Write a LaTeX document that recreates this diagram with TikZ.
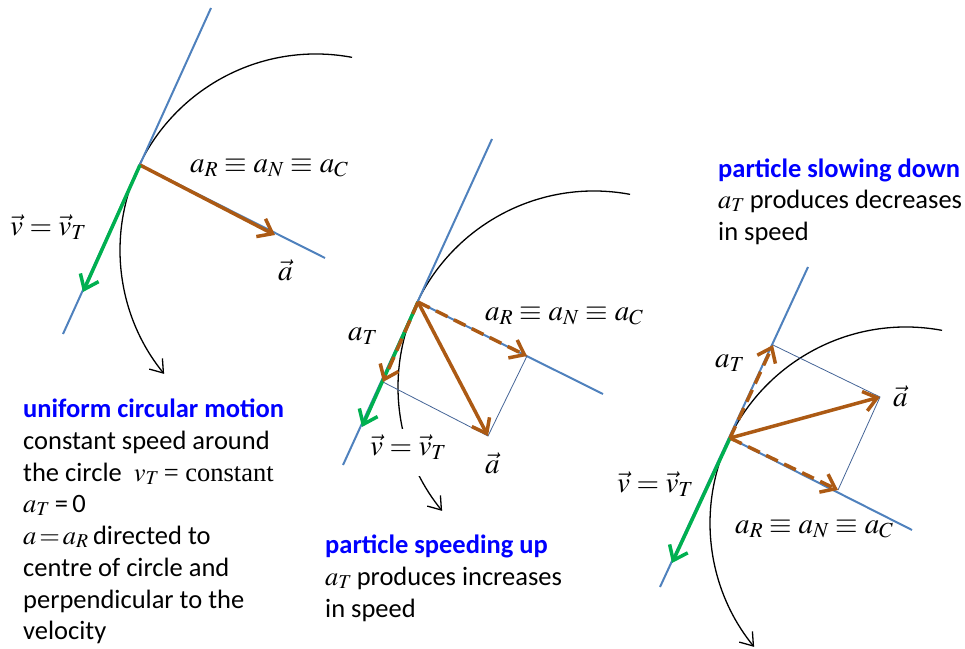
\documentclass[tikz,border=0pt]{standalone}
\usepackage{mathptmx}
\usepackage[no-math]{fontspec}
\setmainfont{Carlito}
\newfontfamily\serif{Liberation Serif}
\usetikzlibrary{arrows.meta}
\definecolor{tanblue}{RGB}{79,129,189}
\definecolor{brn}{RGB}{172,90,20}
\definecolor{grn}{RGB}{0,176,80}
\definecolor{thinb}{RGB}{68,100,150}
\definecolor{hblue}{RGB}{0,0,255}
\begin{document}
\begin{tikzpicture}[x=1pt,y=-1pt,
  tline/.style={draw=tanblue,line width=2pt},
  vecbrn/.style={draw=brn,line width=3.5pt,-{Straight Barb[length=13pt,width=20pt]}},
  dashbrn/.style={vecbrn,dash pattern=on 13pt off 7pt},
  vecgrn/.style={draw=grn,line width=3.5pt,-{Straight Barb[length=13pt,width=20pt]}},
  parl/.style={draw=thinb,line width=0.8pt},
  motion/.style={draw=black,line width=1.3pt,-{Straight Barb[length=12pt,width=17pt]}},
  mlab/.style={inner sep=0pt,anchor=base west,font=\fontsize{29}{35}\selectfont},
  txt/.style={inner sep=0pt,anchor=base west,font=\fontsize{26.5}{32}\selectfont},
  head/.style={inner sep=0pt,anchor=base west,text=hblue,font=\fontsize{26.5}{32}\selectfont\bfseries},
]
\useasboundingbox (0,0) rectangle (965,648);

% ---------------- left diagram ----------------
\coordinate (P1) at (140,165);
\coordinate (C1) at (316,250);
\coordinate (L1a) at (63,334);
\coordinate (L1b) at (211,8);
\coordinate (R1) at (325,258);
\coordinate (A1) at (275,235);
\coordinate (V1) at (83,292);
\draw[motion] ([shift={(-79.4:196)}]C1) arc[start angle=-79.4, end angle=-219.2, radius=196];
\draw[tline] (L1a) -- (L1b);
\draw[tline] (P1) -- (R1);
\draw[vecbrn] (P1) -- (A1);
\draw[vecgrn] (P1) -- (V1);
\node[mlab] (lab1r) at (190,172) {$a_R\equiv a_N\equiv a_C$};
\node[mlab] (lab1v) at (10,235) {$\vec v=\vec v_T$};
\node[mlab] (lab1a) at (278,280) {$\vec a$};

% ---------------- middle diagram ----------------
\coordinate (P2) at (418,302);
\coordinate (C2) at (594,387);
\coordinate (L2a) at (343,465);
\coordinate (L2b) at (492,139);
\coordinate (R2) at (603,394);
\coordinate (AR2) at (527,356);
\coordinate (A2) at (488,436);
\coordinate (AT2) at (383,382);
\coordinate (V2) at (362,427);
\draw[motion] ([shift={(-79.4:196)}]C2) arc[start angle=-79.4, end angle=-219.2, radius=196];
\draw[tline] (L2a) -- (L2b);
\draw[tline] (P2) -- (R2);
\draw[parl] (AT2) -- (A2) -- (AR2);
\draw[vecgrn] (P2) -- (V2);
\draw[dashbrn] (P2) -- (AT2);
\draw[dashbrn] (P2) -- (AR2);
\draw[vecbrn] (P2) -- (A2);
\node[mlab] (lab2r) at (485,320) {$a_R\equiv a_N\equiv a_C$};
\node[mlab] (lab2t) at (348,340) {$a_T$};
\node[mlab,fill=white,inner xsep=2pt,text height=26pt,text depth=21pt] (lab2v) at (368,455) {$\vec v=\vec v_T$};
\node[mlab] (lab2a) at (485,473) {$\vec a$};

% ---------------- right diagram ----------------
\coordinate (P3) at (730,438);
\coordinate (C3) at (906,523);
\coordinate (L3a) at (660,587);
\coordinate (L3b) at (808,267);
\coordinate (R3) at (912,530);
\coordinate (AT3) at (773,345);
\coordinate (A3) at (880,397);
\coordinate (AR3) at (838,490);
\coordinate (V3) at (672,563);
\draw[motion] ([shift={(-79.4:196)}]C3) arc[start angle=-79.4, end angle=-219.2, radius=196];
\draw[tline] (L3a) -- (L3b);
\draw[tline] (P3) -- (R3);
\draw[parl] (AT3) -- (A3) -- (AR3);
\draw[vecgrn] (P3) -- (V3);
\draw[dashbrn] (P3) -- (AT3);
\draw[dashbrn] (P3) -- (AR3);
\draw[vecbrn] (P3) -- (A3);
\node[mlab] (lab3t) at (715,367) {$a_T$};
\node[mlab] (lab3a) at (893,406) {$\vec a$};
\node[mlab] (lab3v) at (617,492) {$\vec v=\vec v_T$};
\node[mlab] (lab3r) at (735,533) {$a_R\equiv a_N\equiv a_C$};

% ---------------- text blocks ----------------
\node[head] (t1) at (23,417) {uniform circular motion};
\node[txt] (t2) at (23,449) {constant speed around};
\node[txt] (t3) at (23,481) {the circle \ $v_T$\,{\serif = constant}};
\node[txt] (t4) at (23,512) {$a_T$\,=\,0};
\node[txt] (t5) at (23,544) {$a\,{=}\,a_R$\,directed to};
\node[txt] (t6) at (23,576) {centre of circle and};
\node[txt] (t7) at (23,608) {perpendicular to the};
\node[txt] (t8) at (23,639) {velocity};

\node[head] (m1) at (325,553) {particle speeding up};
\node[txt] (m2) at (325,585) {$a_T$\,produces increases};
\node[txt] (m3) at (325,617) {in speed};

\node[head] (r1) at (718,177) {particle slowing down};
\node[txt] (r2) at (718,208) {$a_T$\,produces decreases};
\node[txt] (r3) at (718,240) {in speed};
\end{tikzpicture}
\end{document}
